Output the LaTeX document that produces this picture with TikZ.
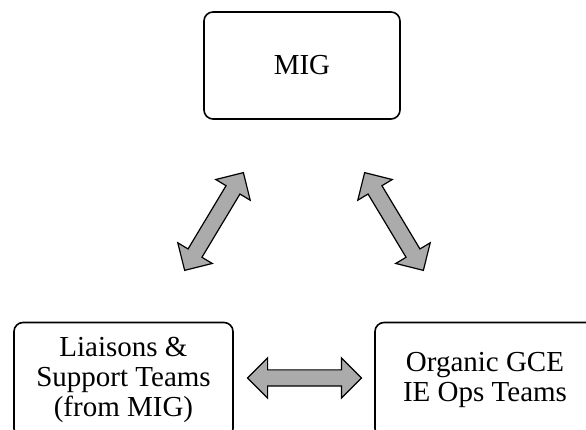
\documentclass[tikz,border=0pt]{standalone}
\usepackage{fontspec}
\setmainfont{Liberation Serif}
\usetikzlibrary{shapes.arrows, positioning, calc}
\tikzset{
  % Team boxes
  teambox/.style={draw, line width=1.6pt, rounded corners=9pt, align=center, inner sep=0pt, font=\fontsize{29}{30}\selectfont},
  % Block arrows between boxes
  linkarrow/.style={double arrow, draw=black, fill=black!33, line width=1.2pt, inner xsep=0pt, inner ysep=7.5pt,
    minimum height=114pt, double arrow head extend=12pt},
}

\begin{document}
\begin{tikzpicture}[x=1pt, y=1pt]
  \useasboundingbox (0,0) rectangle (586,430);
  \clip (0,0) rectangle (586,430);

  % Define boxes
  \node[teambox, minimum width=196pt, minimum height=107pt] (mig) at (302,364.5) {MIG};
  \node[teambox, minimum width=219pt, minimum height=115pt] (liaisons) at (123.5,50) {Liaisons \&\\ Support Teams\\ (from MIG)};
  \node[teambox, minimum width=220pt, minimum height=115pt] (organic) at (485,50) {Organic GCE\\ IE Ops Teams};

  % Two-way arrows
  \node[linkarrow, rotate=59] (migliaisons) at ($(mig.south west)!0.5!(liaisons.north east)+(-4.5,-0.75)$) {};
  \node[linkarrow, rotate=-59] (migorganic) at ($(mig.south east)!0.5!(organic.north west)+(6.5,-0.75)$) {};
  \node[linkarrow] (liaisonsorganic) at ($(liaisons.east)!0.5!(organic.west)+(0.5,2)$) {};

\end{tikzpicture}
\end{document}
